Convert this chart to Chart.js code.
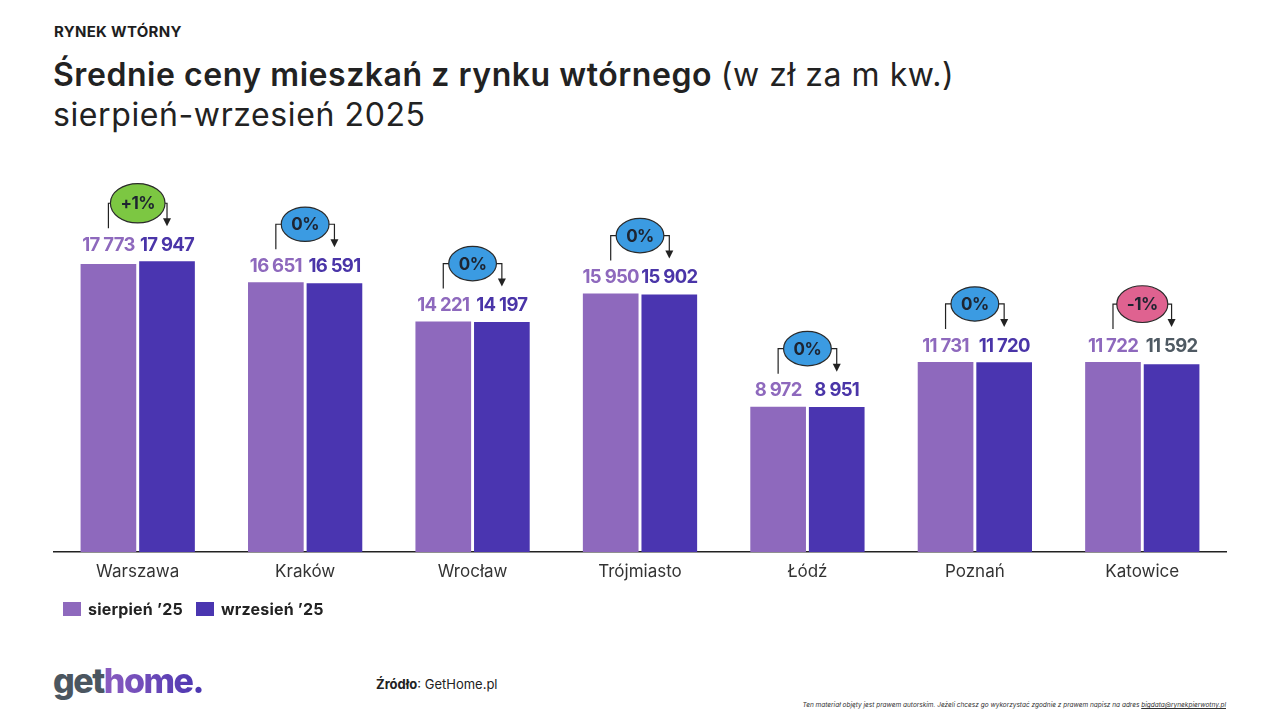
<!DOCTYPE html>
<html><head><meta charset="utf-8">
<script src="https://cdn.jsdelivr.net/npm/chart.js@4.4.1/dist/chart.umd.min.js"></script>
<style>
html,body{margin:0;padding:0;background:#fff;width:1280px;height:720px;overflow:hidden;font-family:Inter,"Open Sans",sans-serif;color:#222;}
.abs{position:absolute;white-space:nowrap;}
#kick{left:54px;top:22px;font-size:15px;font-weight:700;color:#1e1e1e;letter-spacing:0.3px;}
#t1{left:53px;top:55px;font-size:32px;font-weight:600;color:#222;letter-spacing:0.55px;}
#t1 span{font-weight:400;}
#t2{left:53px;top:95px;font-size:32px;font-weight:400;color:#222;letter-spacing:0.6px;}
#chartbox{position:absolute;left:0;top:140px;width:1280px;height:460px;}
.leg{top:599px;font-size:16px;font-weight:700;color:#222;letter-spacing:0.2px;}
.sw{position:absolute;top:602px;width:18px;height:14px;}
#logo{left:53px;top:660px;font-size:34px;font-weight:800;letter-spacing:-1.5px;}
#logo .g{color:#4b5660;}
#logo .h{background:linear-gradient(90deg,#8a5cc0,#4a35b0);-webkit-background-clip:text;background-clip:text;color:transparent;}
#src{left:376px;top:676px;font-size:13px;color:#222;}
#foot{right:54px;top:701px;font-size:6.5px;font-style:italic;color:#333;}
#foot u{text-decoration:underline;}
</style></head>
<body>
<div class="abs" id="kick">RYNEK WTÓRNY</div>
<div class="abs" id="t1">Średnie ceny mieszkań z rynku wtórnego <span>(w zł za m kw.)</span></div>
<div class="abs" id="t2">sierpień-wrzesień 2025</div>
<div id="chartbox"><canvas id="c" width="1280" height="460"></canvas></div>
<div class="sw" style="left:63px;background:#8e69bd"></div>
<div class="abs leg" style="left:88px">sierpień ’25</div>
<div class="sw" style="left:196px;background:#4a35b0"></div>
<div class="abs leg" style="left:221px">wrzesień ’25</div>
<div class="abs" id="logo"><span class="g">get</span><span class="h">home.</span></div>
<div class="abs" id="src"><b>Źródło</b>: GetHome.pl</div>
<div class="abs" id="foot">Ten materiał objęty jest prawem autorskim. Jeżeli chcesz go wykorzystać zgodnie z prawem napisz na adres <u>bigdata@rynekpierwotny.pl</u></div>
<script>
const categories = ["Warszawa","Kraków","Wrocław","Trójmiasto","Łódź","Poznań","Katowice"];
const august = [17773,16651,14221,15950,8972,11731,11722];
const september = [17947,16591,14197,15902,8951,11720,11592];
const changes = ["+1%","0%","0%","0%","0%","0%","-1%"];
const seriesNames = ["sierpień ’25","wrzesień ’25"];

const fmt = v => String(v).replace(/\B(?=(\d{3})+(?!\d))/g, " ");
const label2Colors = ["#4a35a8","#4a35a8","#4a35a8","#4a35a8","#4a35a8","#4a35a8","#4f5a63"];

const annot = {
  id:'annot',
  afterDatasetsDraw(chart){
    const ctx = chart.ctx;
    const m0 = chart.getDatasetMeta(0), m1 = chart.getDatasetMeta(1);
    ctx.save();
    for(let i=0;i<categories.length;i++){
      const b0 = m0.data[i], b1 = m1.data[i];
      const top = Math.min(b0.y, b1.y);
      // value labels
      ctx.font = '700 18.5px Inter, "Open Sans", sans-serif';
      if ('letterSpacing' in ctx) ctx.letterSpacing = '-0.7px';
      ctx.textAlign='center'; ctx.textBaseline='middle';
      const ly = top - 16;
      ctx.fillStyle = '#8e69bd';
      ctx.fillText(fmt(august[i]), b0.x, ly);
      ctx.fillStyle = label2Colors[i];
      ctx.fillText(fmt(september[i]), b1.x, ly);
      // bracket
      const cy = top - 58;
      ctx.strokeStyle = '#222'; ctx.lineWidth = 1.2;
      ctx.beginPath();
      ctx.moveTo(b0.x, top - 33); ctx.lineTo(b0.x, cy); ctx.lineTo(b1.x, cy); ctx.lineTo(b1.x, top - 42);
      ctx.stroke();
      ctx.fillStyle = '#222';
      ctx.beginPath();
      ctx.moveTo(b1.x-4, top-43); ctx.lineTo(b1.x+4, top-43); ctx.lineTo(b1.x, top-35); ctx.closePath(); ctx.fill();
      // bubble
      const c = changes[i];
      const col = c.startsWith('+') ? '#7cc742' : (c.startsWith('-') ? '#df6290' : '#3b9be2');
      const cx = (b0.x + b1.x)/2;
      ctx.font = '700 17px Inter, "Open Sans", sans-serif';
      if ('letterSpacing' in ctx) ctx.letterSpacing = '-0.5px';
      const tw = ctx.measureText(c).width;
      const rx = Math.max(21, tw/2 + 10), ry = rx * 0.72;
      ctx.beginPath();
      ctx.ellipse(cx, cy, rx, ry, 0, 0, Math.PI*2);
      ctx.fillStyle = col; ctx.fill();
      ctx.lineWidth = 1.2; ctx.strokeStyle = '#2a2a2a'; ctx.stroke();
      ctx.fillStyle = '#1e2430';
      ctx.fillText(c, cx, cy+1);
    }
    ctx.restore();
  }
};

new Chart(document.getElementById('c'), {
  type:'bar',
  data:{
    labels: categories,
    datasets:[
      {label: seriesNames[0], data: august, backgroundColor:'#8e69bd'},
      {label: seriesNames[1], data: september, backgroundColor:'#4a35b0'}
    ]
  },
  options:{
    responsive:false, animation:false,
    layout:{padding:{left:54,right:54,top:88,bottom:18}},
    categoryPercentage:0.70, barPercentage:0.95,
    plugins:{legend:{display:false}, tooltip:{enabled:false}},
    scales:{
      y:{display:false, min:0, max:20000},
      x:{
        grid:{display:false, drawTicks:false},
        border:{display:true, color:'#222', width:1.5},
        ticks:{padding:10, color:'#333', font:{family:'Inter, "Open Sans", sans-serif', size:17, weight:'400'}},
        afterFit(s){ s.height = 30; }
      }
    }
  },
  plugins:[annot]
});
</script>
</body></html>
